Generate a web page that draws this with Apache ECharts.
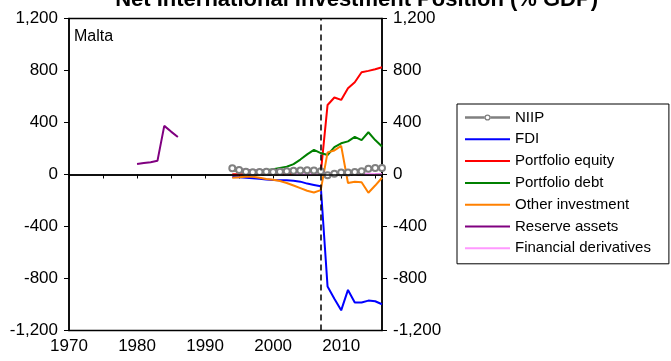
<!DOCTYPE html>
<html><head><meta charset="utf-8">
<script src="https://cdn.jsdelivr.net/npm/echarts@6/dist/echarts.min.js"></script>
<style>html,body{margin:0;padding:0;background:#fff;}#c{width:671px;height:361px;}</style>
</head><body><div id="c"></div>
<script>
const titleText = "Net International Investment Position (% GDP)";
const countryLabel = "Malta";
const years = [1994,1995,1996,1997,1998,1999,2000,2001,2002,2003,2004,2005,2006,2007,2008,2009,2010,2011,2012,2013,2014,2015,2016];
const niip   = [48,35,22,18,20,22,20,22,25,28,30,32,30,25,-5,5,15,15,20,25,45,50,50];
const fdi    = [-20,-22,-25,-28,-32,-38,-42,-45,-45,-48,-55,-70,-80,-90,-862,-955,-1045,-888,-985,-985,-970,-975,-998];
const equity = [2,2,2,3,3,4,5,5,5,5,6,6,7,8,535,592,574,664,710,787,797,810,825];
const debt   = [30,28,25,25,28,32,40,50,60,80,115,155,190,165,150,210,240,255,290,265,325,265,215];
const other  = [-25,-22,-18,-18,-25,-35,-40,-50,-65,-85,-105,-125,-138,-120,170,185,220,-65,-55,-60,-140,-85,-25];
const reserveYears = [1980,1981,1982,1983,1984,1985,1986,1987,1994,1995,1996,1997,1998,1999,2000,2001,2002,2003,2004,2005,2006,2007,2008,2009,2010,2011,2012,2013,2014,2015,2016];
const reserve = [80,88,95,105,374,330,289,null,45,40,35,32,30,30,32,35,35,35,35,33,30,28,3,3,3,3,3,3,2,2,2];
const derivYears = [2003,2004,2005,2006,2007,2008,2009,2010,2011,2012,2013,2014,2015,2016];
const deriv = [3,3,4,5,6,12,12,10,8,8,6,5,3,2];
const crisisYear = 2007;

function pairs(xs, ys){ return xs.map((x,i)=>[x, ys[i]===null ? '-' : ys[i]]); }
const font = 'Liberation Sans, Arial, sans-serif';
const chart = echarts.init(document.getElementById('c'), null, {renderer:'canvas'});
const fmt = v => Number(v).toLocaleString('en-US');
function line(name, data, color, extra){
  return Object.assign({name, type:'line', data, symbol:'none', lineStyle:{color, width:2}, itemStyle:{color}, animation:false, z:2}, extra||{});
}
const lineIcon = 'path://M0,0 M45,14 M0,6 L45,6 L45,8 L0,8 Z';
const niipIcon = 'path://M0,0 M45,14 M0,5.75 L19.6,5.75 L19.6,8.25 L0,8.25 Z M25.4,5.75 L45,5.75 L45,8.25 L25.4,8.25 Z M25.6,7 A3.1,3.1 0 1,0 19.4,7 A3.1,3.1 0 1,0 25.6,7 Z M24.3,7 A1.8,1.8 0 1,1 20.7,7 A1.8,1.8 0 1,1 24.3,7 Z';
const names = ['NIIP','FDI','Portfolio equity','Portfolio debt','Other investment','Reserve assets','Financial derivatives'];
chart.setOption({
  animation:false,
  grid:{left:69, right:289, top:18.5, bottom:30.5, show:true, borderColor:'#000', borderWidth:1.5, backgroundColor:'transparent'},
  xAxis:{type:'value', min:1970, max:2016, interval:5,
    axisLine:{lineStyle:{color:'#000', width:1.5}},
    axisTick:{length:4, lineStyle:{color:'#000', width:1}},
    axisLabel:{color:'#000', fontSize:17, fontFamily:font, margin:7, formatter:v => v%10===0 ? String(v) : '', showMaxLabel:false},
    splitLine:{show:false}},
  yAxis:[
    {type:'value', min:-1200, max:1200, interval:400, position:'left',
     axisLine:{show:true, lineStyle:{color:'#000', width:1.5}},
     axisTick:{show:true, length:5, lineStyle:{color:'#000'}},
     axisLabel:{color:'#000', fontSize:17, fontFamily:font, margin:11, formatter:fmt},
     splitLine:{show:false}},
    {type:'value', min:-1200, max:1200, interval:400, position:'right',
     axisLine:{show:true, lineStyle:{color:'#000', width:1.5}},
     axisTick:{show:true, length:5, lineStyle:{color:'#000'}},
     axisLabel:{color:'#000', fontSize:17, fontFamily:font, margin:11, formatter:fmt},
     splitLine:{show:false}}
  ],
  legend:{orient:'vertical', left:457, top:104, itemWidth:45, itemHeight:14, itemGap:6.8,
    padding:[6,18,8,8], borderColor:'#000', borderWidth:1, backgroundColor:'#fff',
    itemStyle:{borderWidth:0},
    textStyle:{color:'#000', fontSize:15, fontFamily:font, lineHeight:14},
    data:names.map((n,i)=>({name:n, icon: i===0 ? niipIcon : lineIcon}))},
  graphic:[
    {type:'text', left:74, top:29, style:{text:countryLabel, fontSize:16, fontFamily:font, fill:'#000'}},
    {type:'text', x:598, y:11, style:{text:titleText, fontSize:22, fontWeight:'bold', fontFamily:font, fill:'#000', align:'right', verticalAlign:'bottom'}}
  ],
  series:[
    line('NIIP', pairs(years, niip), '#808080', {symbol:'emptyCircle', symbolSize:6, showSymbol:true, lineStyle:{color:'#808080', width:2.5}, itemStyle:{color:'#808080', borderWidth:1.5},
      markLine:{silent:true, symbol:'none', label:{show:false}, animation:false,
        data:[{yAxis:0, lineStyle:{color:'#000', type:'solid', width:1.5}}, {xAxis:crisisYear, lineStyle:{color:'#000', type:[6,4], width:1.5}}]}}),
    line('FDI', pairs(years, fdi), '#0000ff'),
    line('Portfolio equity', pairs(years, equity), '#ff0000'),
    line('Portfolio debt', pairs(years, debt), '#008000'),
    line('Other investment', pairs(years, other), '#ff8000'),
    line('Reserve assets', pairs(reserveYears, reserve), '#800080', {connectNulls:false}),
    line('Financial derivatives', pairs(derivYears, deriv), '#ff99ff')
  ]
});
</script></body></html>
